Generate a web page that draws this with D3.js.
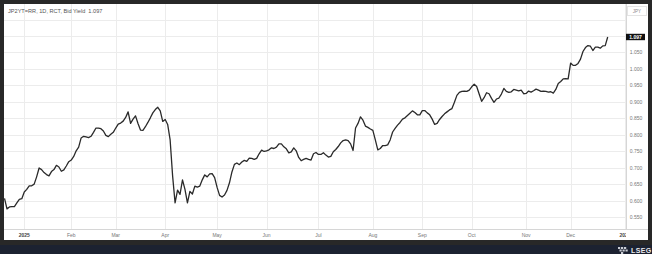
<!DOCTYPE html>
<html>
<head>
<meta charset="utf-8">
<script src="https://cdn.jsdelivr.net/npm/d3@7"></script>
<style>
  html, body { margin: 0; padding: 0; background: #282828; }
  svg { display: block; font-family: "Liberation Sans", Arial, sans-serif; }
</style>
</head>
<body>
<div id="chart"></div>
<script>
// ---- data ----
const title = "JP2YT=RR, 1D, RCT, Bid Yield\u00A0\u00A01.097";
const currency = "JPY";
const lastLabel = "1.097";

// sessions start on this date, market closures below
const firstSession = "2024-12-19";
const lastCalendarDay = "2026-01-09";
const holidays = ["2024-12-31", "2025-01-01", "2025-01-02", "2025-01-03", "2025-01-13",
  "2025-02-11", "2025-02-24", "2025-03-20", "2025-04-29", "2025-05-05", "2025-05-06",
  "2025-07-21", "2025-08-11", "2025-09-15", "2025-09-23", "2025-10-13", "2025-11-03",
  "2025-11-24", "2025-12-31", "2026-01-01", "2026-01-02"];

// bid yield, one value per session
const yields = [
  0.608, 0.576, 0.582, 0.583, 0.583, 0.594, 0.605, 0.607, 0.627, 0.635,
  0.646, 0.646, 0.651, 0.673, 0.700, 0.695, 0.686, 0.680, 0.676, 0.689,
  0.695, 0.708, 0.703, 0.690, 0.694, 0.706, 0.719, 0.724, 0.735, 0.752,
  0.763, 0.791, 0.796, 0.794, 0.792, 0.796, 0.808, 0.821, 0.821, 0.819,
  0.812, 0.799, 0.795, 0.802, 0.808, 0.821, 0.833, 0.836, 0.842, 0.853,
  0.870, 0.835, 0.848, 0.858, 0.835, 0.815, 0.814, 0.825, 0.838, 0.852,
  0.867, 0.877, 0.884, 0.873, 0.841, 0.847, 0.832, 0.785, 0.676, 0.594,
  0.633, 0.620, 0.664, 0.635, 0.594, 0.629, 0.621, 0.645, 0.642, 0.645,
  0.664, 0.679, 0.673, 0.682, 0.683, 0.671, 0.641, 0.617, 0.612, 0.618,
  0.632, 0.655, 0.688, 0.711, 0.715, 0.710, 0.718, 0.723, 0.720, 0.730,
  0.729, 0.726, 0.729, 0.743, 0.754, 0.750, 0.752, 0.755, 0.761, 0.759,
  0.763, 0.773, 0.773, 0.764, 0.758, 0.746, 0.749, 0.761, 0.752, 0.732,
  0.722, 0.726, 0.729, 0.726, 0.724, 0.743, 0.747, 0.741, 0.741, 0.746,
  0.739, 0.733, 0.735, 0.749, 0.756, 0.765, 0.776, 0.783, 0.785, 0.783,
  0.773, 0.753, 0.821, 0.835, 0.855, 0.845, 0.827, 0.823, 0.818, 0.814,
  0.785, 0.755, 0.759, 0.768, 0.768, 0.770, 0.785, 0.809, 0.820, 0.830,
  0.838, 0.848, 0.852, 0.859, 0.866, 0.873, 0.868, 0.861, 0.861, 0.874,
  0.874, 0.867, 0.861, 0.848, 0.832, 0.835, 0.847, 0.856, 0.864, 0.870,
  0.876, 0.880, 0.899, 0.920, 0.929, 0.932, 0.933, 0.932, 0.936, 0.946,
  0.954, 0.947, 0.924, 0.902, 0.913, 0.928, 0.925, 0.911, 0.899, 0.909,
  0.912, 0.924, 0.941, 0.932, 0.929, 0.931, 0.938, 0.936, 0.934, 0.936,
  0.925, 0.926, 0.933, 0.930, 0.934, 0.939, 0.936, 0.932, 0.933, 0.932,
  0.930, 0.931, 0.927, 0.938, 0.956, 0.962, 0.970, 0.971, 0.970, 1.018,
  1.011, 1.011, 1.017, 1.030, 1.053, 1.065, 1.071, 1.069, 1.056, 1.066,
  1.066, 1.063, 1.070, 1.071, 1.097
];

// y axis: grid every 0.05, labels on part of them
const gridValues = [0.55, 0.60, 0.65, 0.70, 0.75, 0.80, 0.85, 0.90, 0.95, 1.00, 1.05, 1.10, 1.15];
const yLabelValues = [0.55, 0.60, 0.65, 0.70, 0.75, 0.80, 0.85, 0.90, 0.95, 1.00, 1.05];
const yDomain = [0.515, 1.197];
const xDomain = [0, 251.4];

// ---- layout ----
const W = 652, H = 254;
const panel = { x: 4, y: 4, w: 644, h: 236 };
const plot = { left: 4.5, right: 626, top: 4, bottom: 229 };

// trading calendar
const fmt = d3.utcFormat("%Y-%m-%d");
const parse = d3.utcParse("%Y-%m-%d");
const sessions = d3.utcDay.range(parse(firstSession), d3.utcDay.offset(parse(lastCalendarDay), 1))
  .filter(d => d.getUTCDay() !== 0 && d.getUTCDay() !== 6 && !holidays.includes(fmt(d)));

const monthTicks = [];
sessions.forEach((d, i) => {
  if (i > 0 && d.getUTCMonth() !== sessions[i - 1].getUTCMonth()) monthTicks.push({ i, d });
});

const x = d3.scaleLinear().domain(xDomain).range([plot.left, plot.right]);
const y = d3.scaleLinear().domain(yDomain).range([plot.bottom, plot.top]);

const svg = d3.select("#chart").append("svg")
  .attr("width", W).attr("height", H);

svg.append("rect").attr("width", W).attr("height", H).attr("fill", "#282828");

// bottom branding bar
svg.append("rect").attr("x", 0).attr("y", 245).attr("width", W).attr("height", 9).attr("fill", "#1c2231");

svg.append("rect")
  .attr("x", panel.x).attr("y", panel.y)
  .attr("width", panel.w).attr("height", panel.h)
  .attr("fill", "#ffffff");

svg.append("defs").append("clipPath").attr("id", "plotclip")
  .append("rect")
  .attr("x", plot.left - 0.5).attr("y", plot.top)
  .attr("width", plot.right - plot.left + 0.5).attr("height", H - plot.top);

// grid
const grid = svg.append("g").attr("stroke", "#ececec").attr("stroke-width", 1);
grid.selectAll("line.h").data(gridValues).join("line")
  .attr("class", "h")
  .attr("x1", plot.left - 0.5).attr("x2", plot.right)
  .attr("y1", d => Math.round(y(d)) + 0.5).attr("y2", d => Math.round(y(d)) + 0.5);
grid.selectAll("line.v").data(monthTicks).join("line")
  .attr("class", "v")
  .attr("x1", d => Math.round(x(d.i)) + 0.5).attr("x2", d => Math.round(x(d.i)) + 0.5)
  .attr("y1", plot.top).attr("y2", plot.bottom);

// plot borders
svg.append("line")
  .attr("x1", plot.right + 0.5).attr("x2", plot.right + 0.5)
  .attr("y1", plot.top).attr("y2", plot.bottom)
  .attr("stroke", "#d6d6d6");
svg.append("line")
  .attr("x1", panel.x).attr("x2", panel.x + panel.w)
  .attr("y1", plot.bottom + 0.5).attr("y2", plot.bottom + 0.5)
  .attr("stroke", "#d6d6d6");

// the yield line
const line = d3.line()
  .x((d, i) => x(i))
  .y(d => y(d));

svg.append("path")
  .datum(yields)
  .attr("clip-path", "url(#plotclip)")
  .attr("d", line)
  .attr("fill", "none")
  .attr("stroke", "#2a2a2a")
  .attr("stroke-width", 1.3)
  .attr("stroke-linejoin", "round");

// title
svg.append("text")
  .attr("x", 8).attr("y", 13)
  .attr("font-size", 5.6)
  .attr("fill", "#555")
  .text(title);

// y labels
svg.append("g").selectAll("text").data(yLabelValues).join("text")
  .attr("x", 636).attr("y", d => y(d) + 1.8)
  .attr("text-anchor", "middle")
  .attr("font-size", 5)
  .attr("fill", "#777")
  .text(d => d3.format(".3f")(d));

// currency box
svg.append("rect")
  .attr("x", 627.5).attr("y", 6.5).attr("width", 19).attr("height", 9)
  .attr("fill", "#fff").attr("stroke", "#e4e4e4");
svg.append("text")
  .attr("x", 637).attr("y", 12.8)
  .attr("text-anchor", "middle").attr("font-size", 4.5).attr("fill", "#888")
  .text(currency);

// last value marker
const lastY = y(yields[yields.length - 1]);
svg.append("rect")
  .attr("x", 626).attr("y", lastY - 3.2).attr("width", 19).attr("height", 6.4)
  .attr("fill", "#111");
svg.append("text")
  .attr("x", 635.5).attr("y", lastY + 1.8)
  .attr("text-anchor", "middle").attr("font-size", 5).attr("font-weight", "bold")
  .attr("fill", "#fff")
  .text(lastLabel);

// month labels
svg.append("g").attr("clip-path", "url(#plotclip)")
  .selectAll("text").data(monthTicks).join("text")
  .attr("x", d => x(d.i)).attr("y", 237)
  .attr("text-anchor", "middle")
  .attr("font-size", 5)
  .attr("font-weight", d => d.d.getUTCMonth() === 0 ? "bold" : "normal")
  .attr("fill", d => d.d.getUTCMonth() === 0 ? "#444" : "#777")
  .text(d => d.d.getUTCMonth() === 0 ? d3.utcFormat("%Y")(d.d) : d3.utcFormat("%b")(d.d));

// LSEG mark
const logo = svg.append("g").attr("fill", "#c9ccd3");
[[618, 247], [621, 247], [624, 247], [619.5, 249.5], [622.5, 249.5], [625.5, 249.5], [621, 252]]
  .forEach(p => logo.append("rect").attr("x", p[0]).attr("y", p[1]).attr("width", 2.2).attr("height", 2));
svg.append("text")
  .attr("x", 631).attr("y", 252.6)
  .attr("font-size", 7).attr("font-weight", "bold")
  .attr("letter-spacing", 0.4)
  .attr("fill", "#e8e9ee")
  .text("LSEG");
</script>
</body>
</html>
